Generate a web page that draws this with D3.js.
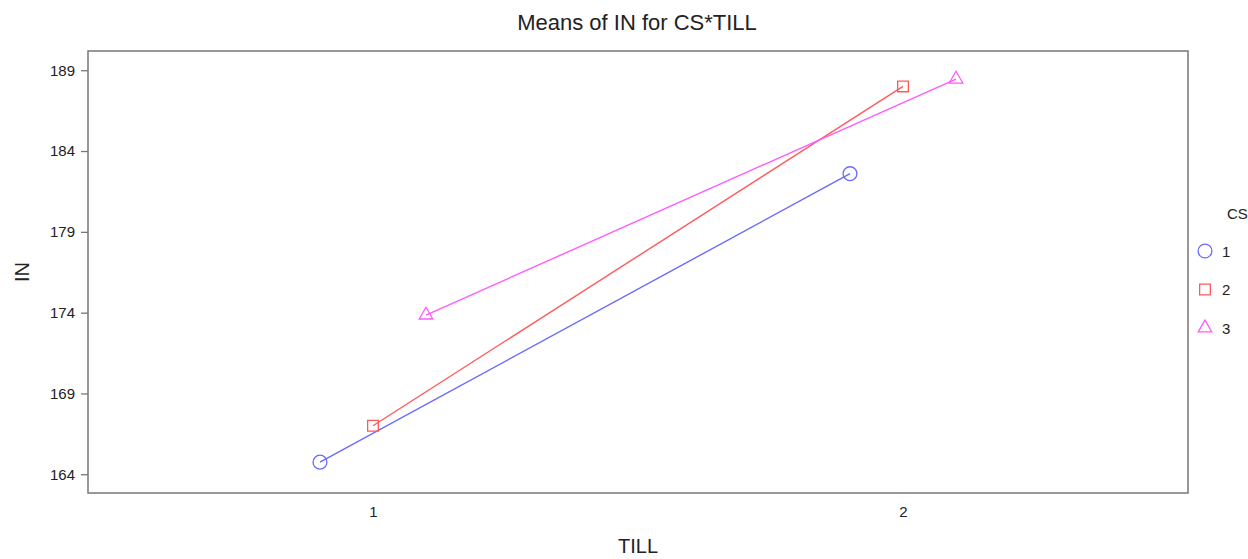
<!DOCTYPE html>
<html>
<head>
<meta charset="utf-8">
<script src="https://cdn.jsdelivr.net/npm/d3@7"></script>
<style>
  body { margin: 0; background: #fff; }
  text { font-family: Arial, "Liberation Sans", sans-serif; fill: #222; }
</style>
</head>
<body>
<div id="chart"></div>
<script>
var tillLevels = [1, 2];
var csGroups = ["1", "2", "3"];
var csOffsets = [-0.1, 0, 0.1];
var csColors = ["#6a6aff", "#ff5a5a", "#ff5aff"];
var csShapes = ["circle", "square", "triangle"];
var csMeans = [
  [164.75, 182.6],
  [167.0, 188.0],
  [173.85, 188.45]
];
var yTicks = [164, 169, 174, 179, 184, 189];

var svg = d3.select("#chart").append("svg")
  .attr("width", 1248)
  .attr("height", 559);

var margin = {top: 51, right: 60, bottom: 66, left: 88};
var width = 1188 - margin.left;
var height = 493 - margin.top;
var g = svg.append("g").attr("transform", "translate(" + margin.left + "," + margin.top + ")");

var x = d3.scaleLinear()
  .domain([0.4623, 2.5377])
  .range([0, width]);

var y = d3.scaleLinear()
  .domain([162.84, 190.19])
  .range([height, 0]);

// frame
g.append("rect")
  .attr("width", width)
  .attr("height", height)
  .attr("fill", "none")
  .attr("stroke", "#777")
  .attr("stroke-width", 1.5);

// axes
var yAxis = d3.axisLeft(y).tickValues(yTicks).tickSize(7).tickPadding(6);
var yg = g.append("g").call(yAxis);
yg.select(".domain").remove();
yg.selectAll("line").attr("stroke", "#777").attr("stroke-width", 1.3);
yg.selectAll("text").style("font-size", "15px");

var xAxis = d3.axisBottom(x).tickValues(tillLevels).tickFormat(d3.format("d")).tickSize(0).tickPadding(13);
var xg = g.append("g").attr("transform", "translate(0," + height + ")").call(xAxis);
xg.select(".domain").remove();
xg.selectAll("text").style("font-size", "15px");

// lines and markers
var symbolFor = {
  circle: d3.symbolCircle,
  square: d3.symbolSquare,
  triangle: d3.symbolTriangle
};
var symbolSize = {circle: 150, square: 115, triangle: 80};

var line = d3.line()
  .x(function(d) { return x(d.till); })
  .y(function(d) { return y(d.mean); });

csGroups.forEach(function(cs, i) {
  var pts = tillLevels.map(function(t, j) {
    return {till: t + csOffsets[i], mean: csMeans[i][j]};
  });
  g.append("path")
    .datum(pts)
    .attr("fill", "none")
    .attr("stroke", csColors[i])
    .attr("stroke-width", 1.4)
    .attr("d", line);

  g.selectAll(".pt" + i)
    .data(pts)
    .enter().append("path")
    .attr("class", "pt" + i)
    .attr("transform", function(d) {
      return "translate(" + x(d.till) + "," + y(d.mean) + ")";
    })
    .attr("d", d3.symbol().type(symbolFor[csShapes[i]]).size(symbolSize[csShapes[i]]))
    .attr("fill", "none")
    .attr("stroke", csColors[i])
    .attr("stroke-width", 1.3);
});

// titles
svg.append("text")
  .attr("x", 637)
  .attr("y", 30)
  .attr("text-anchor", "middle")
  .style("font-size", "22px")
  .text("Means of IN for CS*TILL");

svg.append("text")
  .attr("transform", "translate(29,272) rotate(-90)")
  .attr("text-anchor", "middle")
  .style("font-size", "20px")
  .text("IN");

svg.append("text")
  .attr("x", 638)
  .attr("y", 553)
  .attr("text-anchor", "middle")
  .style("font-size", "20px")
  .text("TILL");

// legend
var legend = svg.append("g").attr("transform", "translate(1205,0)");
legend.append("text")
  .attr("x", 22)
  .attr("y", 219)
  .style("font-size", "15px")
  .text("CS");

csGroups.forEach(function(cs, i) {
  var ly = 251 + i * 38.5;
  legend.append("path")
    .attr("transform", "translate(0," + ly + ")")
    .attr("d", d3.symbol().type(symbolFor[csShapes[i]]).size(symbolSize[csShapes[i]]))
    .attr("fill", "none")
    .attr("stroke", csColors[i])
    .attr("stroke-width", 1.3);
  legend.append("text")
    .attr("x", 17)
    .attr("y", ly + 5.5)
    .style("font-size", "15px")
    .text(cs);
});
</script>
</body>
</html>
